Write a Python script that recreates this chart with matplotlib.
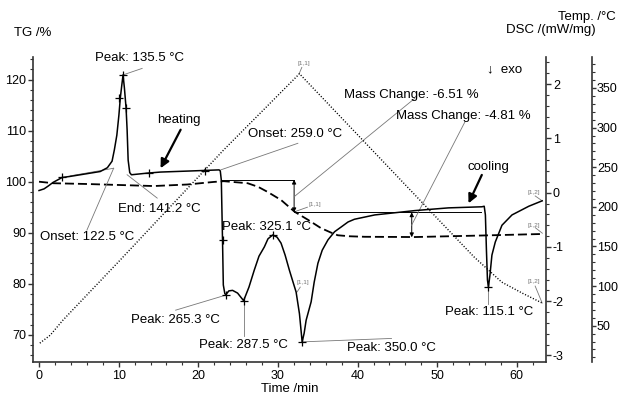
import matplotlib
matplotlib.use('Agg')
import matplotlib.pyplot as plt
from matplotlib.ticker import MultipleLocator

plt.rcParams['font.family'] = ['Liberation Sans', 'DejaVu Sans']
FS = 9.5
TFS = 9.0

# ---------------- data ----------------
# DSC (solid), mW/mg vs time/min
dsc_t = [0.0, 0.63, 1.13, 1.77, 2.40, 2.90, 3.91, 6.02, 7.69, 8.58, 9.17, 9.46, 9.77,
         10.03, 10.21, 10.40, 10.55, 10.72, 10.93, 11.06, 11.19, 11.39, 11.60, 13.58,
         15.26, 19.04, 22.61, 22.76, 22.89, 23.04, 23.14, 23.33, 23.46, 23.83, 24.30,
         24.93, 25.69, 26.36, 27.02, 27.62, 28.29, 28.75, 29.34, 29.89, 30.39, 30.90,
         31.44, 31.90, 32.28, 32.70, 33.04, 33.29, 33.54, 34.17, 34.55, 35.02, 35.56,
         36.28, 37.11, 37.96, 38.80, 39.60, 42.16, 47.20, 51.41, 55.61, 55.90, 56.05,
         56.18, 56.31, 56.43, 56.62, 56.87, 57.29, 58.13, 59.39, 61.50, 63.18]
dsc = [0.04, 0.07, 0.12, 0.19, 0.24, 0.28, 0.30, 0.35, 0.39, 0.46, 0.58, 0.79, 1.06,
       1.43, 1.75, 1.99, 2.17, 1.93, 1.56, 1.16, 0.60, 0.37, 0.33, 0.36,
       0.38, 0.40, 0.42, 0.40, 0.23, -0.87, -1.70, -1.86, -1.88, -1.81, -1.80,
       -1.85, -1.99, -1.74, -1.43, -1.17, -1.00, -0.85, -0.78, -0.82, -0.93, -1.15,
       -1.43, -1.65, -1.83, -2.23, -2.75, -2.59, -2.35, -2.01, -1.65, -1.30, -1.06,
       -0.87, -0.72, -0.63, -0.54, -0.49, -0.41, -0.33, -0.28, -0.26, -0.25, -0.41,
       -1.06, -1.61, -1.74, -1.52, -1.15, -0.91, -0.60, -0.41, -0.25, -0.15]

# TG (dashed), %
tg_t = [0.0, 1.8, 6.0, 10.2, 14.4, 18.6, 21.9, 23.2, 26.2, 27.5, 28.7, 30.4, 32.1,
        33.8, 35.4, 36.7, 37.5, 39.0, 40.9, 47.2, 55.6, 63.2]
tg = [100.0, 99.7, 99.55, 99.35, 99.15, 99.45, 99.95, 100.1, 99.7, 99.0, 98.0, 96.4,
      94.1, 92.5, 90.9, 90.0, 89.5, 89.3, 89.2, 89.15, 89.45, 89.75]

# Temperature program (dotted), °C
temp_t = [0.1, 1.4, 3.0, 10.2, 23.2, 32.7, 54.6, 58.1, 60.7, 63.2]
temp = [28, 38, 57, 133, 272, 368, 137, 105, 91, 78.5]

# characteristic points on DSC curve (+ marks)
mark_t = [2.86, 10.0, 10.55, 10.93, 13.78, 20.8, 23.04, 23.46, 25.69, 29.34, 33.04, 56.43]
mark_dsc = [0.29, 1.74, 2.17, 1.56, 0.36, 0.40, -0.87, -1.88, -1.99, -0.78, -2.75, -1.74]

x_ticks = [0, 10, 20, 30, 40, 50, 60]
tg_ticks = [70, 80, 90, 100, 110, 120]
dsc_ticks = [-3, -2, -1, 0, 1, 2]
temp_ticks = [50, 100, 150, 200, 250, 300, 350]

# ---------------- figure ----------------
W, H = 619, 395
fig = plt.figure(figsize=(W / 100, H / 100), dpi=100)
L, R, T, B = 33.3, 546.0, 57.0, 362.0
ax = fig.add_axes([L / W, 1 - B / H, (R - L) / W, (B - T) / H])
ax_dsc = ax.twinx()
ax_t = ax.twinx()
ax_t.spines['right'].set_position(('axes', (591.7 - L) / (R - L)))

spc = '#333333'
for a in (ax, ax_dsc, ax_t):
    a.spines['top'].set_visible(False)
    for s in a.spines.values():
        s.set_color(spc)
        s.set_linewidth(1.2)
ax.spines['right'].set_visible(False)
for a in (ax_dsc, ax_t):
    a.spines['left'].set_visible(False)
    a.spines['bottom'].set_visible(False)

ax.set_xlim(-0.72, 63.66)
ax.set_ylim(64.65, 124.45)
ax_dsc.set_ylim(-3.12, 2.50)
ax_t.set_ylim(4.2, 389.1)

ax.set_xticks(x_ticks)
ax.xaxis.set_minor_locator(MultipleLocator(2))
ax.set_yticks(tg_ticks)
ax.yaxis.set_minor_locator(MultipleLocator(2))
ax_dsc.set_yticks(dsc_ticks)
ax_dsc.yaxis.set_minor_locator(MultipleLocator(0.2))
ax_t.set_yticks(temp_ticks)
ax_t.yaxis.set_minor_locator(MultipleLocator(10))
ax_dsc.set_yticklabels(['-3', '-2', '-1', '0', '1', '2'])

for a in (ax, ax_dsc, ax_t):
    a.tick_params(which='major', direction='out', length=3.5, width=1, color=spc,
                  labelsize=TFS, pad=1.5)
    a.tick_params(which='minor', direction='out', length=2, width=0.8, color=spc)
ax.tick_params(axis='x', pad=2)
ax_t.tick_params(axis='y', which='major', length=3, pad=0.8)

ax.set_xlabel('Time /min', fontsize=FS, labelpad=1)
fig.text(33 / W, 1 - 33 / H, 'TG /%', ha='center', va='center', fontsize=FS)
fig.text(616 / W, 1 - 16.7 / H, 'Temp. /°C', ha='right', va='center', fontsize=FS)
fig.text(596 / W, 1 - 30 / H, 'DSC /(mW/mg)', ha='right', va='center', fontsize=FS)

# ---------------- curves ----------------
ax.plot(tg_t, tg, color='black', lw=1.3, dashes=(5, 2.2), zorder=3)
ax_dsc.plot(dsc_t, dsc, color='black', lw=1.1, zorder=3)
ax_t.plot(temp_t, temp, color='black', lw=1.0, dashes=(0.8, 1.3), zorder=3)
ax_dsc.plot(mark_t, mark_dsc, ls='none', marker='+', ms=6, mew=0.9, color='black', zorder=4)

gray = '#777777'
lw_l = 0.6

def lead(a, x0, y0, x1, y1):
    a.plot([x0, x1], [y0, y1], color=gray, lw=lw_l, zorder=2, clip_on=False)

# DSC annotations
ax_dsc.text(12.6, 2.49, 'Peak: 135.5 °C', ha='center', va='center', fontsize=FS, clip_on=False)
lead(ax_dsc, 10.55, 2.17, 12.95, 2.29)
ax_dsc.text(6.0, -0.82, 'Onset: 122.5 °C', ha='center', va='center', fontsize=FS)
lead(ax_dsc, 6.01, -0.69, 9.37, 0.45)
lead(ax_dsc, 3.91, 0.31, 9.37, 0.45)
ax_dsc.text(15.16, -0.31, 'End: 141.2 °C', ha='center', va='center', fontsize=FS)
lead(ax_dsc, 11.06, 0.33, 14.84, -0.10)
ax_dsc.text(17.53, 1.34, 'heating', ha='center', va='center', fontsize=FS)
ax_dsc.annotate('', xy=(15.26, 0.45), xytext=(17.78, 1.16),
                arrowprops=dict(arrowstyle='-|>', lw=1.6, color='black', mutation_scale=13,
                                shrinkA=0, shrinkB=0))
ax_dsc.text(32.16, 1.08, 'Onset: 259.0 °C', ha='center', va='center', fontsize=FS)
lead(ax_dsc, 22.82, 0.42, 32.5, 0.91)

ax_dsc.text(28.56, -0.64, 'Peak: 325.1 °C', ha='center', va='center', fontsize=FS)
ax_dsc.text(17.15, -2.35, 'Peak: 265.3 °C', ha='center', va='center', fontsize=FS)
lead(ax_dsc, 17.15, -2.165, 23.46, -1.887)
ax_dsc.text(25.66, -2.81, 'Peak: 287.5 °C', ha='center', va='center', fontsize=FS)
lead(ax_dsc, 25.69, -1.99, 25.69, -2.644)
ax_dsc.text(44.26, -2.865, 'Peak: 350.0 °C', ha='center', va='center', fontsize=FS)
lead(ax_dsc, 33.04, -2.749, 44.26, -2.686)
ax_dsc.text(56.5, -2.20, 'Peak: 115.1 °C', ha='center', va='center', fontsize=FS)
lead(ax_dsc, 56.43, -1.74, 56.43, -2.06)

ax_dsc.text(56.46, 0.48, 'cooling', ha='center', va='center', fontsize=FS)
ax_dsc.annotate('', xy=(53.93, -0.196), xytext=(55.6, 0.327),
                arrowprops=dict(arrowstyle='-|>', lw=1.6, color='black', mutation_scale=13,
                                shrinkA=0, shrinkB=0))
ax_dsc.text(58.45, 2.28, '↓  exo', ha='center', va='center', fontsize=FS)

# TG mass-change construction
ax.plot([22.8, 32.03], [100.4, 100.4], color='black', lw=0.7, zorder=2)
ax.plot([32.03, 55.5], [94.0, 94.0], color='black', lw=0.7, zorder=2)
ax.annotate('', xy=(32.03, 94.0), xytext=(32.03, 100.4),
            arrowprops=dict(arrowstyle='<|-|>', lw=0.7, color='black', mutation_scale=6,
                            shrinkA=0, shrinkB=0))
ax.annotate('', xy=(46.8, 89.1), xytext=(46.8, 94.0),
            arrowprops=dict(arrowstyle='<|-|>', lw=0.7, color='black', mutation_scale=6,
                            shrinkA=0, shrinkB=0))
ax_dsc.text(46.78, 1.80, 'Mass Change: -6.51 %', ha='center', va='center', fontsize=FS)
lead(ax_dsc, 32.07, -0.07, 47.2, 1.74)
ax_dsc.text(53.3, 1.415, 'Mass Change: -4.81 %', ha='center', va='center', fontsize=FS)
lead(ax_dsc, 46.78, -0.60, 53.5, 1.31)

# small [x,y] segment labels
sfs = 4.6
ax_t.text(33.3, 381, '[1,1]', ha='center', va='center', fontsize=sfs, color=gray, clip_on=False)
lead(ax_t, 32.66, 368, 33.0, 376)
ax.text(34.6, 95.45, '[1,1]', ha='center', va='center', fontsize=sfs, color=gray)
lead(ax, 32.07, 94.1, 33.7, 95.0)
ax_dsc.text(33.13, -1.66, '[1,1]', ha='center', va='center', fontsize=sfs, color=gray)
lead(ax_dsc, 32.4, -1.83, 32.8, -1.74)
ax_dsc.text(62.13, 0.0, '[1,2]', ha='center', va='center', fontsize=sfs, color=gray)
lead(ax_dsc, 62.3, -0.06, 63.18, -0.15)
ax.text(62.13, 91.5, '[1,2]', ha='center', va='center', fontsize=sfs, color=gray)
lead(ax, 62.3, 91.0, 63.2, 89.9)
ax_t.text(62.13, 106.4, '[1,2]', ha='center', va='center', fontsize=sfs, color=gray)
lead(ax_t, 62.3, 100, 63.18, 78.6)

fig.savefig('out.png', dpi=100)
